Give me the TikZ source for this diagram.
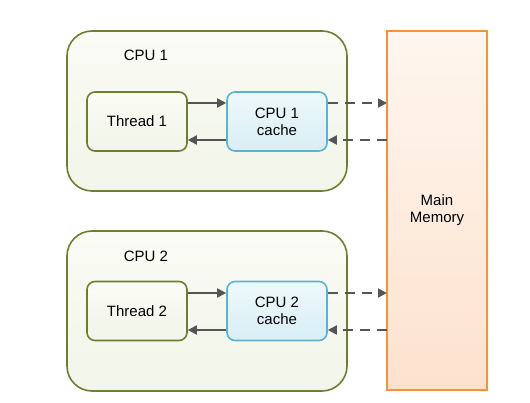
\documentclass[tikz,border=0pt]{standalone}
\usepackage{fontspec}
\setmainfont{Liberation Sans}
\usetikzlibrary{arrows.meta}
\definecolor{cpuline}{HTML}{6B7F2E}
\definecolor{cpufillA}{HTML}{FAFBF5}
\definecolor{cpufillB}{HTML}{F2F5E9}
\definecolor{cacheline}{HTML}{5AB4D0}
\definecolor{cachefillA}{HTML}{EEF8FB}
\definecolor{cachefillB}{HTML}{D8EEF5}
\definecolor{memline}{HTML}{F7923A}
\definecolor{memfillA}{HTML}{FEF6EF}
\definecolor{memfillB}{HTML}{FDE2CE}
\definecolor{arrowc}{HTML}{555555}
\tikzset{
  cpubox/.style={draw=cpuline, line width=1.6pt, rounded corners=25pt, top color=cpufillA, bottom color=cpufillB, minimum width=280pt, minimum height=160pt},
  threadbox/.style={draw=cpuline, line width=1.6pt, rounded corners=8pt, top color=cpufillA, bottom color=cpufillB, minimum width=100pt, minimum height=59pt, font=\fontsize{15}{17}\selectfont, align=center},
  cachebox/.style={draw=cacheline, line width=1.6pt, rounded corners=8pt, top color=cachefillA, bottom color=cachefillB, minimum width=100pt, minimum height=59pt, font=\fontsize{15}{17}\selectfont, align=center},
  membox/.style={draw=memline, line width=1.6pt, top color=memfillA, bottom color=memfillB, minimum width=100pt, minimum height=359pt, font=\fontsize{15}{17}\selectfont, align=center},
  lbl/.style={font=\fontsize{15}{17}\selectfont},
  conn/.style={draw=arrowc, line width=1.8pt, -{Triangle[length=9pt,width=9pt]}},
  dconn/.style={conn, dash pattern=on 10pt off 7pt},
}
\begin{document}
\begin{tikzpicture}[x=1pt,y=-1pt]
\useasboundingbox (0,0) rectangle (530,403);
\node[cpubox] (cpu1) at (207,111) {};
\node[cpubox] (cpu2) at (207,311) {};
\node[lbl] (cpu1l) at (146,55) {CPU 1};
\node[lbl] (cpu2l) at (146,256) {CPU 2};
\node[threadbox] (t1) at (137,121.5) {Thread 1};
\node[threadbox] (t2) at (137,311) {Thread 2};
\node[cachebox] (c1) at (277,121.5) {CPU 1\\cache};
\node[cachebox] (c2) at (277,311) {CPU 2\\cache};
\node[membox] (mem) at (437,210.5) {Main\\Memory};
\coordinate (m1a) at (387,103);
\coordinate (m1b) at (387,140);
\coordinate (m2a) at (387,293);
\coordinate (m2b) at (387,330);
\draw[conn] (t1.east |- 0,103) -- (c1.west |- 0,103);
\draw[conn] (c1.west |- 0,140) -- (t1.east |- 0,140);
\draw[conn] (t2.east |- 0,293) -- (c2.west |- 0,293);
\draw[conn] (c2.west |- 0,330) -- (t2.east |- 0,330);
\draw[dconn] (c1.east |- m1a) -- (m1a);
\draw[dconn] (m1b) -- (c1.east |- m1b);
\draw[dconn] (c2.east |- m2a) -- (m2a);
\draw[dconn] (m2b) -- (c2.east |- m2b);
\end{tikzpicture}
\end{document}
